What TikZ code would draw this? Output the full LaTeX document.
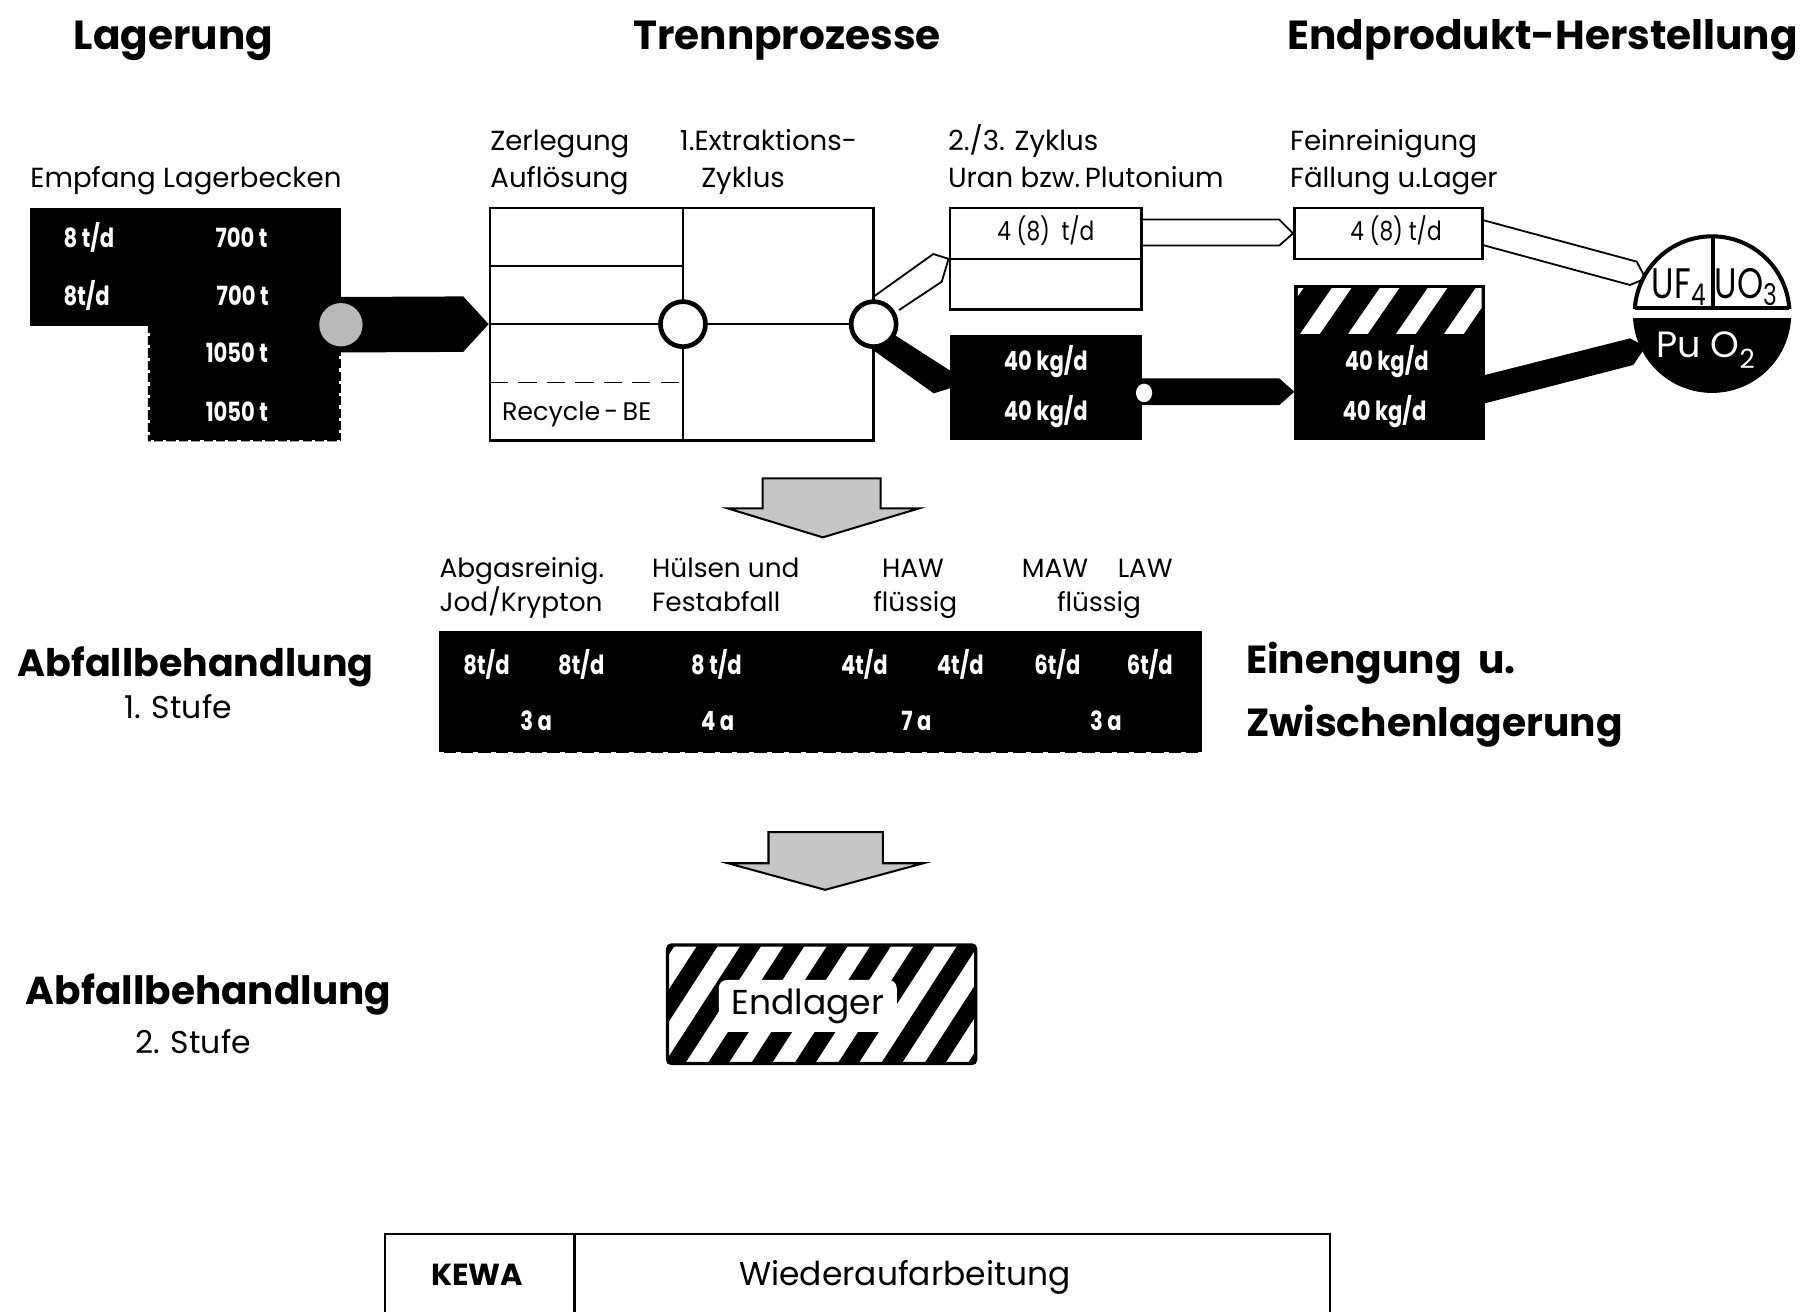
\documentclass[tikz,border=0pt]{standalone}
\usepackage{fontspec}
\setmainfont{Poppins}
\usetikzlibrary{calc,fit}

\begin{document}
\begin{tikzpicture}[x=0.02cm, y=-0.02cm,
  ttl/.style={font=\bfseries\fontsize{20}{24}\selectfont, anchor=base, inner sep=0pt},
  bigl/.style={font=\bfseries\fontsize{18.7}{22}\selectfont, anchor=base west, inner sep=0pt},
  hdr/.style={font=\fontsize{13.6}{17}\selectfont, anchor=base west, inner sep=0pt},
  hdrc/.style={hdr, anchor=base},
  wlab/.style={hdr, font=\fontsize{13}{16}\selectfont},
  wlabc/.style={wlab, anchor=base},
  stufe/.style={font=\fontsize{15.5}{18}\selectfont, anchor=base, inner sep=0pt},
  val/.style={text=white, font=\bfseries\fontsize{13}{15}\selectfont, anchor=base, inner sep=0pt, xscale=0.8, transform shape},
  valk/.style={font=\fontsize{13}{15}\selectfont, anchor=base, inner sep=0pt, xscale=0.82, transform shape},
  frame/.style={draw, line width=1.3pt, inner sep=0pt},
  blk/.style={fill=black, inner sep=0pt},
  thin/.style={line width=0.9pt},
  ring/.style={circle, draw, fill=white, line width=2.3pt, inner sep=0pt, minimum size=0.78cm},
  downarrow/.style={fill=gray!45, draw=black, line width=1pt, line join=miter}
]
\useasboundingbox (0,0) rectangle (1568,1135);

% ---------- section titles ----------
\node[ttl] (tLag)   at (150,43)  {Lagerung};
\node[ttl] (tTrenn) at (681,43)  {Trennprozesse};
\node[ttl] (tEnd)   at (1335,43) {Endprodukt-Herstellung};

% ---------- column headings ----------
\node[hdr]  (hEmpf)  at (26,162)   {Empfang Lagerbecken};
\node[hdr]  (hZer)   at (424,130)  {Zerlegung};
\node[hdr]  (hAuf)   at (424,162)  {Auflösung};
\node[hdr]  (hExt)   at (588,130)  {1.Extraktions-};
\node[hdrc] (hZyk)   at (643,162)  {Zyklus};
\node[hdr]  (hZ23)   at (820,130)  {2./3. Zyklus};
\node[hdr]  (hUran)  at (820,162)  {Uran bzw.\,Plutonium};
\node[hdr]  (hFein)  at (1116,130) {Feinreinigung};
\node[hdr]  (hFaell) at (1116,162) {Fällung u.Lager};

% ---------- storage block ----------
\fill (26,180) -- (295,180) -- (295,382) -- (128,382) -- (128,282) -- (26,282) -- cycle;
\draw[white, line width=1.6pt, dash pattern=on 1.6pt off 4.5pt]
  (128,288) -- (128,382) -- (295,382) -- (295,308);
\coordinate (lagOut) at (295,281);

% separation box
\node[frame, fit={(424,180)(756,381)}] (trenn) {};

% thick feed arrow into the separation box
\fill ($(lagOut)+(0,-24)$) -- ($(trenn.west)+(-22,-24)$) -- (trenn.west)
      -- ($(trenn.west)+(-22,24)$) -- ($(lagOut)+(0,24)$) -- cycle;
\node[circle, fill=gray!55, inner sep=0pt, minimum size=0.75cm] (lagPump) at (lagOut) {};

\node[val] (vE1) at (77,214)  {8 t/d};
\node[val] (vL1) at (209,214) {700 t};
\node[val] (vE2) at (75,264)  {8t/d};
\node[val] (vL2) at (210,264) {700 t};
\node[val] (vL3) at (205,314) {1050 t};
\node[val] (vL4) at (205,365) {1050 t};

% internal structure of the separation box
\draw[thin] (591,180) -- (591,381);
\draw[thin] (424,230.5) -- (591,230.5);
\draw[thin] (trenn.west) -- (trenn.east);
\draw[thin, dash pattern=on 9pt off 5pt] (424,331) -- (591,331);
\node[hdrc, font=\fontsize{12.5}{15}\selectfont] (recyc) at (499,364) {Recycle\,-\,BE};

% ---------- uranium / plutonium cycles ----------
\node[frame, fit={(822,180)(988,268)}] (b23) {};
\draw[thin] (b23.west) -- (b23.east);
\node[valk] (v23) at (905,208) {4 (8)\ \ t/d};
\node[blk, fit={(822,290)(988,381)}] (bPu) {};
\node[val] (vP1) at (905,321) {40 kg/d};
\node[val] (vP2) at (905,364) {40 kg/d};

% outline arrow to the uranium line, thick arrow to the plutonium line
\draw[thin, line join=miter] (757,256) -- (807.6,219.8) -- (b23.west) -- (814.9,243.8) -- (778,268.3);
\fill (766,284.6) -- (822,320.6) -- (822,336) -- (808,340.4) -- (750,299) -- cycle;

\node[ring] (c1) at (591,280.5) {};
\node[ring] (c2) at (756,280.5) {};

% ---------- final purification ----------
\node[frame, fit={(1120,180)(1283,224)}] (bFein) {};
\node[valk] (vF) at (1208,208) {4 (8) t/d};
\node[blk, fit={(1120,247)(1285,381)}] (bPuF) {};
\begin{scope}
  \clip (1123,250) rectangle (1282,289);
  \foreach \i in {0,...,5}
    \fill[white] (1083.5+\i*41.5,289) -- ++(17,0) -- ++(29,-42) -- ++(-17,0) -- cycle;
\end{scope}
\node[val] (vF1) at (1200,321) {40 kg/d};
\node[val] (vF2) at (1198,364) {40 kg/d};

% transfers between cycles and purification
\draw[thin, line join=miter] (988,190) -- (1107,190) -- (bFein.west) -- (1107,212.5) -- (988,212.5);
\fill (988,327.4) -- (1107,327.4) -- (1120,339) -- (1107,350.6) -- (988,350.6) -- cycle;
\fill[white] (990,340) ellipse (7 and 8);

% ---------- end products ----------
\coordinate (prod) at (1481.5,271.5);
\draw[thin, line join=miter] (1283,190.4) -- (1416.3,226.4) -- (1424,241) -- (1410.5,246.6) -- (1283,212);
\fill (1285,324.5) -- (1410.6,292.8) -- (1424,300) -- (1413.4,315.8) -- (1285,349) -- cycle;
\begin{scope}
  \clip (1400,190) rectangle (1560,266.8);
  \draw[line width=2pt, fill=white] (prod) circle (67);
\end{scope}
\draw[line width=2pt] (1414.7,266.8) -- (1548.3,266.8);
\draw[line width=2pt] (1482.5,205) -- (1482.5,266.8);
\begin{scope}
  \clip (1400,275.5) rectangle (1560,360);
  \fill (prod) circle (68.5);
\end{scope}
\node[font=\fontsize{21}{21}\selectfont, anchor=base, inner sep=0pt, xscale=0.78, transform shape]
  (uf4) at (1453,258) {UF\textsubscript{4}};
\node[font=\fontsize{21}{21}\selectfont, anchor=base, inner sep=0pt, xscale=0.78, transform shape]
  (uo3) at (1511,258) {UO\textsubscript{3}};
\node[text=white, font=\fontsize{18}{18}\selectfont, anchor=base, inner sep=0pt]
  (puo2) at (1476,309) {Pu O\raisebox{-0.3em}{\fontsize{13}{13}\selectfont 2}};

% ---------- first waste stage ----------
\filldraw[downarrow] (660,414) -- (762,414) -- (762,440) -- (795,440) -- (712,465) -- (630,440) -- (660,440) -- cycle;

\node[wlab]  (wAbg)  at (380,500) {Abgasreinig.};
\node[wlab]  (wJod)  at (380,529) {Jod/Krypton};
\node[wlab]  (wHuel) at (564,500) {Hülsen und};
\node[wlab]  (wFest) at (564,529) {Festabfall};
\node[wlabc] (wHAW)  at (790,500) {HAW};
\node[wlabc] (wFl1)  at (792,529) {flüssig};
\node[wlabc] (wMAW)  at (913,500) {MAW};
\node[wlabc] (wLAW)  at (991,500) {LAW};
\node[wlabc] (wFl2)  at (951,529) {flüssig};

\node[blk, fit={(380,546)(1040,652)}] (waste) {};
\draw[white, line width=2pt, dash pattern=on 2.5pt off 6pt] (waste.south west) -- (waste.south east);
\node[val] (w1) at (421,584) {8t/d};
\node[val] (w2) at (503,584) {8t/d};
\node[val] (w3) at (620,584) {8 t/d};
\node[val] (w4) at (748,584) {4t/d};
\node[val] (w5) at (831,584) {4t/d};
\node[val] (w6) at (915,584) {6t/d};
\node[val] (w7) at (995,584) {6t/d};
\node[val] (a1) at (464,632) {3 a};
\node[val] (a2) at (621,632) {4 a};
\node[val] (a3) at (793,632) {7 a};
\node[val] (a4) at (957,632) {3 a};

\node[bigl]  (abf1)  at (15,585)   {Abfallbehandlung};
\node[stufe] (st1)   at (154,622)  {1. Stufe};
\node[bigl, font=\bfseries\fontsize{19.3}{23}\selectfont] (ein) at (1078,583) {Einengung\ \ u.};
\node[bigl, font=\bfseries\fontsize{19.3}{23}\selectfont] (zwi) at (1078,637) {Zwischenlagerung};

% ---------- second waste stage ----------
\filldraw[downarrow] (665,720) -- (764,720) -- (764,747) -- (799,747) -- (714,770) -- (630,747) -- (665,747) -- cycle;

\node[bigl, font=\bfseries\fontsize{19.2}{23}\selectfont] (abf2) at (22,869) {Abfallbehandlung};
\node[stufe] (st2)  at (167,912) {2. Stufe};

\node[inner sep=0pt, fit={(578,818)(844,920)}] (endl) {};
\begin{scope}
  \clip (578,818) rectangle (844,920);
  \foreach \i in {0,...,10}
    \fill (500+\i*37.5,920) -- ++(18,0) -- ++(66,-102) -- ++(-18,0) -- cycle;
\end{scope}
\fill[white, rounded corners=4pt] (622,848) rectangle (776,893);
\draw[line width=1.6pt, rounded corners=2pt] (endl.south west) rectangle (endl.north east);
\node[font=\fontsize{17}{20}\selectfont, anchor=base, inner sep=0pt] (endlT) at (699,878) {Endlager};

% ---------- title block ----------
\node[draw, line width=1.2pt, inner sep=0pt, fit={(333,1068)(497,1150)}] (kewa) {};
\node[draw, line width=1.2pt, inner sep=0pt, fit={(497,1068)(1151,1150)}] (wa) {};
\node[font=\bfseries\fontsize{15}{18}\selectfont, anchor=base, inner sep=0pt] (kewaT) at (413,1112) {KEWA};
\node[font=\fontsize{16.2}{20}\selectfont, anchor=base, inner sep=0pt] (waT) at (783,1112) {Wiederaufarbeitung};
\end{tikzpicture}
\end{document}
